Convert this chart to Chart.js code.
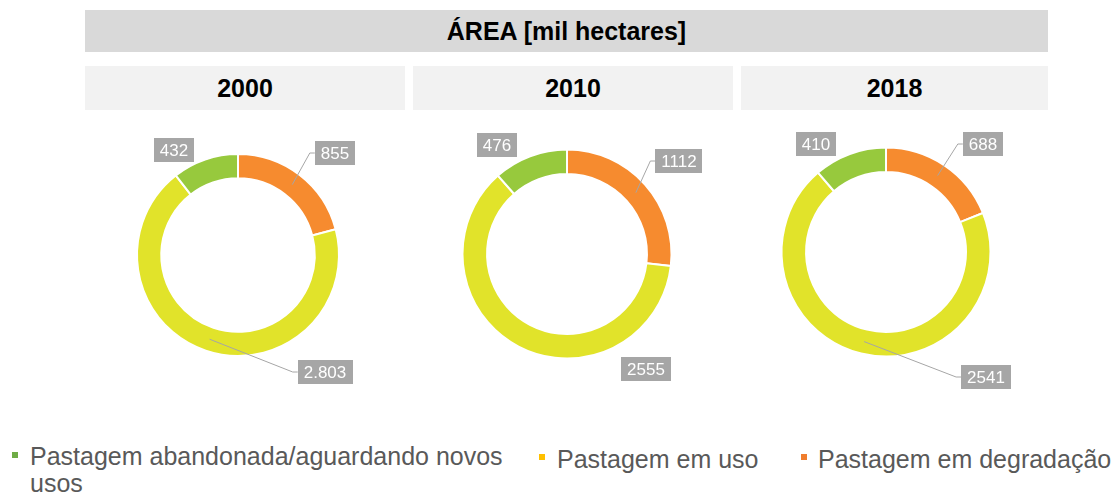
<!DOCTYPE html>
<html>
<head>
<meta charset="utf-8">
<script src="https://cdn.jsdelivr.net/npm/chart.js@4.4.1/dist/chart.umd.min.js"></script>
<style>
  html, body { margin: 0; padding: 0; background: #fff; }
  body { width: 1111px; height: 493px; position: relative; overflow: hidden;
         font-family: "Liberation Sans", Arial, sans-serif; }
  .bar { position: absolute; display: flex; align-items: center; justify-content: center;
         font-weight: bold; color: #000; }
  #title { left: 85px; top: 10px; width: 963px; height: 42px; background: #d9d9d9; font-size: 25px; }
  .year { top: 66px; height: 44px; background: #f2f2f2; font-size: 25px; }
  canvas { position: absolute; }
  .leg { position: absolute; font-size: 25px; line-height: 27px; color: #595959; }
  .sq { position: absolute; width: 6px; height: 6px; }
</style>
</head>
<body>
<div id="title" class="bar">ÁREA [mil hectares]</div>
<div id="years"></div>
<div id="legend"></div>

<script>
// --- Data ---
const years = ['2000', '2010', '2018'];
const categories = ['Pastagem em degradação', 'Pastagem em uso', 'Pastagem abandonada/aguardando novos usos'];
const degradacao = [855, 1112, 688];
const emUso      = [2803, 2555, 2541];
const abandonada = [432, 476, 410];
// value labels as printed on the chart
const labels2000 = ['855', '2.803', '432'];
const labels2010 = ['1112', '2555', '476'];
const labels2018 = ['688', '2541', '410'];

// --- Styling ---
const ringColors   = ['#f68b2f', '#e1e32a', '#97c93d'];
const legendColors = { 'Pastagem abandonada/aguardando novos usos': '#6fac46',
                       'Pastagem em uso': '#ffc000',
                       'Pastagem em degradação': '#f07d2e' };

// --- Layout (pixels) ---
const yearBoxes = [[85, 320], [413, 320], [741, 307]];
const panels = [
  { left: 78,  top: 105, radius: 101,   cutout: '76%' },
  { left: 407, top: 104, radius: 104.5, cutout: '76.5%' },
  { left: 726, top: 102, radius: 104.5, cutout: '76.5%' }
];
// label box centre offsets from donut centre, and leader flag
const labelPos = [
  [{ dx: 97, dy: -102, leader: true }, { dx: 87, dy: 117, leader: true }, { dx: -64, dy: -105, leader: false }],
  [{ dx: 112, dy: -93, leader: true }, { dx: 79, dy: 115, leader: false }, { dx: -70, dy: -109, leader: false }],
  [{ dx: 97, dy: -108, leader: true }, { dx: 100, dy: 125, leader: true }, { dx: -70, dy: -108, leader: false }]
];

const CW = 320, CH = 300;

// --- Headers ---
const yearsDiv = document.getElementById('years');
years.forEach((y, i) => {
  const d = document.createElement('div');
  d.className = 'bar year';
  d.style.left = yearBoxes[i][0] + 'px';
  d.style.width = yearBoxes[i][1] + 'px';
  d.textContent = y;
  yearsDiv.appendChild(d);
});

// --- Label plugin ---
const valueLabelPlugin = {
  id: 'valueLabels',
  afterDatasetsDraw(chart, args, opts) {
    const ctx = chart.ctx;
    const meta = chart.getDatasetMeta(0);
    const cx = chart.chartArea.left + chart.chartArea.width / 2;
    const cy = chart.chartArea.top + chart.chartArea.height / 2;
    ctx.save();
    ctx.font = '17px "Liberation Sans", Arial, sans-serif';
    ctx.textAlign = 'center';
    ctx.textBaseline = 'middle';
    meta.data.forEach((arc, i) => {
      const txt = opts.texts[i];
      const pos = opts.pos[i];
      const bx = cx + pos.dx, by = cy + pos.dy;
      const w = ctx.measureText(txt).width + 12, h = 24;
      if (pos.leader) {
        const p = arc.getCenterPoint();
        const edge = bx - w / 2;
        ctx.strokeStyle = '#a6a6a6';
        ctx.lineWidth = 1;
        ctx.beginPath();
        ctx.moveTo(p.x, p.y);
        ctx.lineTo(edge - 5, by);
        ctx.lineTo(edge, by);
        ctx.stroke();
      }
      ctx.fillStyle = '#a6a6a6';
      ctx.fillRect(Math.round(bx - w / 2), Math.round(by - h / 2), Math.round(w), h);
      ctx.fillStyle = '#ffffff';
      ctx.fillText(txt, bx, by + 1);
    });
    ctx.restore();
  }
};

// --- Donuts ---
const allLabels = [labels2000, labels2010, labels2018];
years.forEach((y, i) => {
  const c = document.createElement('canvas');
  c.width = CW; c.height = CH;
  c.style.left = panels[i].left + 'px';
  c.style.top = panels[i].top + 'px';
  c.style.width = CW + 'px'; c.style.height = CH + 'px';
  document.body.appendChild(c);

  new Chart(c.getContext('2d'), {
    type: 'doughnut',
    data: {
      labels: categories,
      datasets: [{
        data: [degradacao[i], emUso[i], abandonada[i]],
        backgroundColor: ringColors,
        borderColor: '#ffffff',
        borderWidth: 2
      }]
    },
    options: {
      responsive: false,
      animation: false,
      events: [],
      radius: panels[i].radius,
      cutout: panels[i].cutout,
      layout: { padding: 0 },
      plugins: {
        legend: { display: false },
        tooltip: { enabled: false },
        valueLabels: { texts: allLabels[i], pos: labelPos[i] }
      }
    },
    plugins: [valueLabelPlugin]
  });
});

// --- Legend ---
const legendDiv = document.getElementById('legend');
const legendLayout = [
  { name: categories[2], sq: [12, 452], text: [30, 443], width: 490 },
  { name: categories[1], sq: [539, 454], text: [557, 446], width: 240 },
  { name: categories[0], sq: [801, 454], text: [818, 446], width: 300 }
];
legendLayout.forEach(l => {
  const s = document.createElement('div');
  s.className = 'sq';
  s.style.left = l.sq[0] + 'px'; s.style.top = l.sq[1] + 'px';
  s.style.background = legendColors[l.name];
  legendDiv.appendChild(s);
  const t = document.createElement('div');
  t.className = 'leg';
  t.style.left = l.text[0] + 'px'; t.style.top = l.text[1] + 'px';
  t.style.width = l.width + 'px';
  t.textContent = l.name;
  legendDiv.appendChild(t);
});
</script>
</body>
</html>
